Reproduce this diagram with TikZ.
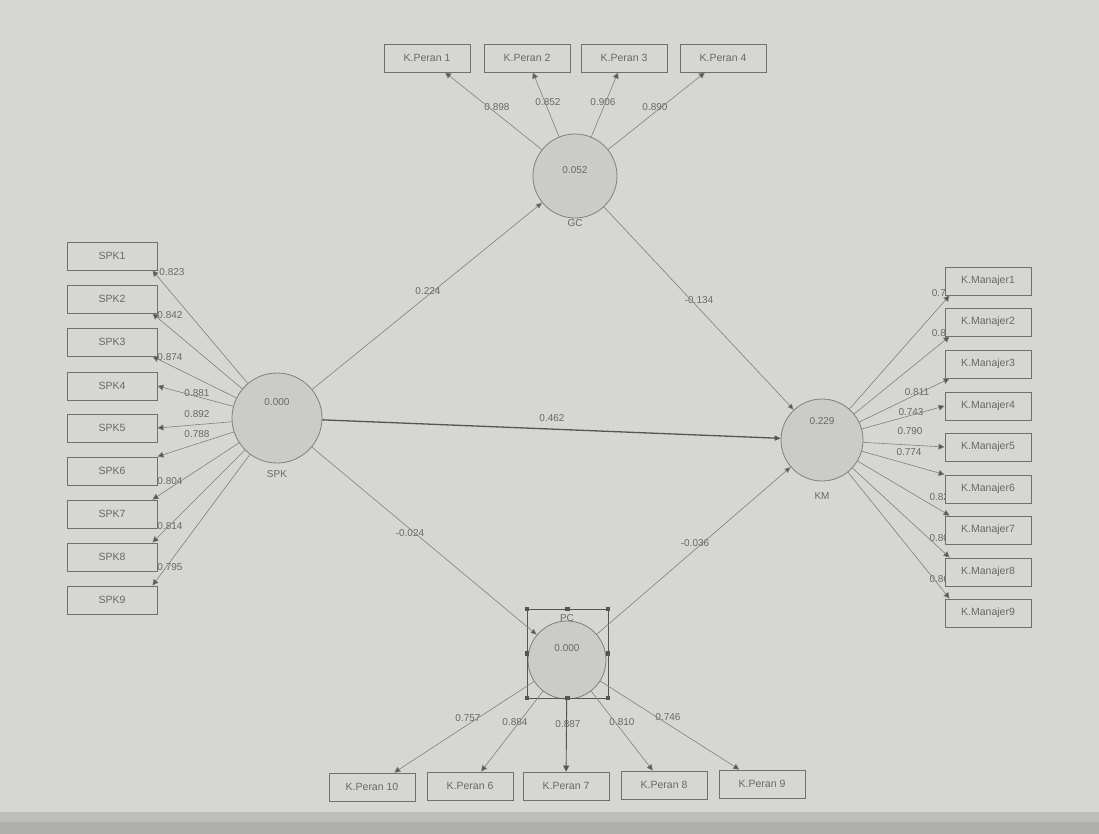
\documentclass[tikz,border=0pt]{standalone}
\usepackage{fontspec}
\setmainfont{Liberation Sans}
\usetikzlibrary{arrows.meta}
\definecolor{bg}{RGB}{214,214,210}
\definecolor{shadow}{RGB}{175,175,172}
\definecolor{circf}{RGB}{203,203,199}
\definecolor{circc}{RGB}{128,128,126}
\definecolor{boxc}{RGB}{112,112,110}
\definecolor{linec}{RGB}{128,128,126}
\definecolor{darkline}{RGB}{85,85,83}
\definecolor{txt}{RGB}{105,105,103}
\begin{document}
\begin{tikzpicture}[x=1pt,y=-1pt,
  ind/.style={draw=boxc, fill=bg, line width=0.9pt, minimum width=86pt, minimum height=28pt, inner sep=0pt, font=\fontsize{10.5}{12}\selectfont, text=txt},
  lat/.style={circle, draw=circc, fill=circf, line width=0.8pt, inner sep=0pt},
  num/.style={font=\fontsize{10}{11}\selectfont, text=txt, inner sep=0pt},
  load/.style={draw=linec, line width=0.6pt, -{Triangle[length=6pt,width=6pt,fill=darkline]}},
  spath/.style={draw=linec, line width=0.6pt, -{Triangle[length=6pt,width=5pt,fill=darkline]}},
  handle/.style={fill=darkline}
]
\useasboundingbox (0,0) rectangle (1099,834);
\fill[bg] (0,0) rectangle (1099,834);
\fill[shadow!60!bg] (0,812) rectangle (1099,834);
\fill[shadow] (0,822) rectangle (1099,834);

% latent variables
\node[lat, minimum size=90pt] (SPK) at (277,418) {};
\node[lat, minimum size=84pt] (GC) at (575,176) {};
\node[lat, minimum size=82pt] (KM) at (822,440) {};
\node[lat, minimum size=78pt] (PC) at (567,660) {};

\node[num] (vSPK) at (277,402) {0.000};
\node[num] (vGC) at (575,170) {0.052};
\node[num] (vKM) at (822,421) {0.229};
\node[num] (vPC) at (567,648) {0.000};

\node[num] (lSPK) at (277,474) {SPK};
\node[num] (lGC) at (575,223) {GC};
\node[num] (lKM) at (822,496) {KM};
\node[num] (lPC) at (567,618) {PC};

% selection rectangle around PC
\draw[darkline, line width=0.6pt] (527,609) rectangle (608,698);
\foreach \hx/\hy in {527/609,567.5/609,608/609,527/653.5,608/653.5,527/698,567.5/698,608/698}
  \fill[handle] (\hx-2.2,\hy-2.2) rectangle (\hx+2.2,\hy+2.2);

% loading labels (drawn before boxes so boxes may cover them)
\node[num] (t1) at (497,107) {0.898};
\node[num] (t2) at (548,102) {0.852};
\node[num] (t3) at (603,102) {0.906};
\node[num] (t4) at (655,107) {0.890};

\node[num, anchor=east] (m1) at (946,293) {0.7};
\node[num, anchor=east] (m2) at (946,333) {0.8};
\node[num] (m3) at (917,392) {0.811};
\node[num] (m4) at (911,412) {0.743};
\node[num] (m5) at (910,431) {0.790};
\node[num] (m6) at (909,452) {0.774};
\node[num] (m7) at (942,497) {0.823};
\node[num] (m8) at (942,538) {0.802};
\node[num] (m9) at (942,579) {0.863};

\node[num] (b1) at (468,718) {0.757};
\node[num] (b2) at (515,722) {0.884};
\node[num] (b3) at (568,724) {0.887};
\node[num] (b4) at (622,722) {0.810};
\node[num] (b5) at (668,717) {0.746};

% path coefficients
\node[num] (p1) at (428,291) {0.224};
\node[num] (p2) at (699,300) {-0.134};
\node[num] (p3) at (552,418) {0.462};
\node[num] (p4) at (410,533) {-0.024};
\node[num] (p5) at (695,543) {-0.036};

% indicator boxes
\node[ind] (KP1) at (427,58) {K.Peran 1};
\node[ind] (KP2) at (527,58) {K.Peran 2};
\node[ind] (KP3) at (624,58) {K.Peran 3};
\node[ind] (KP4) at (723,58) {K.Peran 4};

\node[ind, minimum width=90pt] (S1) at (112,256) {SPK1};
\node[ind, minimum width=90pt] (S2) at (112,299) {SPK2};
\node[ind, minimum width=90pt] (S3) at (112,342) {SPK3};
\node[ind, minimum width=90pt] (S4) at (112,386) {SPK4};
\node[ind, minimum width=90pt] (S5) at (112,428) {SPK5};
\node[ind, minimum width=90pt] (S6) at (112,471) {SPK6};
\node[ind, minimum width=90pt] (S7) at (112,514) {SPK7};
\node[ind, minimum width=90pt] (S8) at (112,557) {SPK8};
\node[ind, minimum width=90pt] (S9) at (112,600) {SPK9};

\node[num] (s1) at (172,272) {0.823};
\node[num] (s2) at (170,315) {0.842};
\node[num] (s3) at (170,357) {0.874};
\node[num] (s4) at (197,393) {0.881};
\node[num] (s5) at (197,414) {0.892};
\node[num] (s6) at (197,434) {0.788};
\node[num] (s7) at (170,481) {0.804};
\node[num] (s8) at (170,526) {0.814};
\node[num] (s9) at (170,567) {0.795};

\node[ind] (M1) at (988,281) {K.Manajer1};
\node[ind] (M2) at (988,322) {K.Manajer2};
\node[ind] (M3) at (988,364) {K.Manajer3};
\node[ind] (M4) at (988,406) {K.Manajer4};
\node[ind] (M5) at (988,447) {K.Manajer5};
\node[ind] (M6) at (988,489) {K.Manajer6};
\node[ind] (M7) at (988,530) {K.Manajer7};
\node[ind] (M8) at (988,572) {K.Manajer8};
\node[ind] (M9) at (988,613) {K.Manajer9};

\node[ind] (B10) at (372,787) {K.Peran 10};
\node[ind] (B6) at (470,786) {K.Peran 6};
\node[ind] (B7) at (566,786) {K.Peran 7};
\node[ind] (B8) at (664,785) {K.Peran 8};
\node[ind] (B9) at (762,784) {K.Peran 9};

% outer loadings
\draw[load] (GC) -- (KP1);
\draw[load] (GC) -- (KP2);
\draw[load] (GC) -- (KP3);
\draw[load] (GC) -- (KP4);

\draw[load] (SPK) -- ([xshift=-5pt]S1.south east);
\draw[load] (SPK) -- ([xshift=-5pt]S2.south east);
\draw[load] (SPK) -- ([xshift=-5pt]S3.south east);
\draw[load] (SPK) -- (S4.east);
\draw[load] (SPK) -- (S5.east);
\draw[load] (SPK) -- (S6.north east);
\draw[load] (SPK) -- ([xshift=-5pt]S7.north east);
\draw[load] (SPK) -- ([xshift=-5pt]S8.north east);
\draw[load] (SPK) -- ([xshift=-5pt]S9.north east);

\draw[load] (KM) -- ([xshift=5pt]M1.south west);
\draw[load] (KM) -- ([xshift=5pt]M2.south west);
\draw[load] (KM) -- ([xshift=5pt]M3.south west);
\draw[load] (KM) -- (M4.west);
\draw[load] (KM) -- (M5.west);
\draw[load] (KM) -- (M6.north west);
\draw[load] (KM) -- ([xshift=5pt]M7.north west);
\draw[load] (KM) -- ([xshift=5pt]M8.north west);
\draw[load] (KM) -- ([xshift=5pt]M9.north west);

\draw[load] (PC) -- (B10);
\draw[load] (PC) -- (B6);
\draw[load, draw=darkline, line width=0.9pt] (PC) -- (B7);
\draw[load] (PC) -- (B8);
\draw[load] (PC) -- (B9);

% inner model
\draw[spath] (SPK) -- (GC);
\draw[spath] (GC) -- (KM);
\draw[spath, draw=darkline, line width=1.3pt] (SPK) -- (KM);
\draw[spath] (SPK) -- (PC);
\draw[spath] (PC) -- (KM);
\end{tikzpicture}
\end{document}
